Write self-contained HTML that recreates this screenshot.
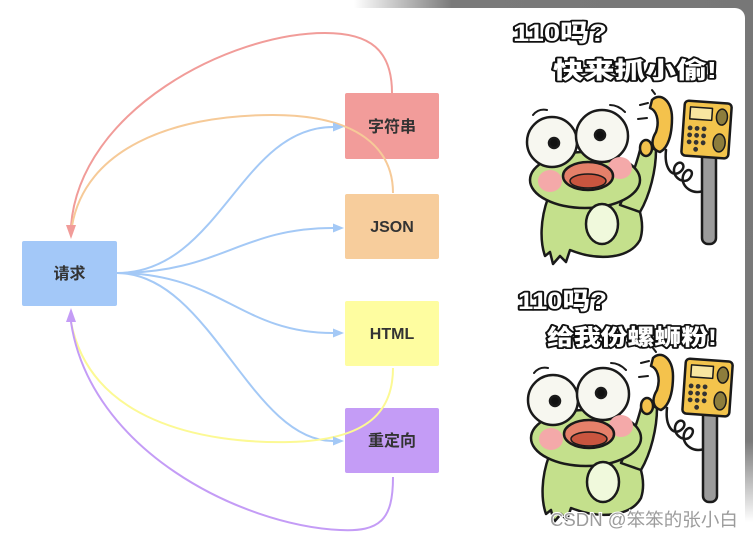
<!DOCTYPE html>
<html><head><meta charset="utf-8"><style>
html,body{margin:0;padding:0;background:#fff;width:753px;height:538px;overflow:hidden;}
svg{display:block;}
</style></head><body>
<svg width="753" height="538" viewBox="0 0 753 538" xmlns="http://www.w3.org/2000/svg">
<defs>
<linearGradient id="gt" x1="0" y1="0" x2="753" y2="0" gradientUnits="userSpaceOnUse">
<stop offset="0" stop-color="#fff"/><stop offset="0.47" stop-color="#fff"/><stop offset="0.6" stop-color="#7a7a7a"/><stop offset="1" stop-color="#777"/>
</linearGradient>
<linearGradient id="gr" x1="0" y1="0" x2="0" y2="538" gradientUnits="userSpaceOnUse">
<stop offset="0" stop-color="#777"/><stop offset="0.82" stop-color="#7a7a7a"/><stop offset="0.97" stop-color="#fff"/><stop offset="1" stop-color="#fff"/>
</linearGradient>
</defs>
<rect x="0" y="0" width="753" height="8" fill="url(#gt)"/>
<rect x="730" y="0" width="23" height="30" fill="#777"/>
<rect x="745" y="0" width="8" height="538" fill="url(#gr)"/>
<path d="M0,8 H735 A10,10 0 0 1 745,18 V538 H0 Z" fill="#fff"/>

<!-- nodes -->
<rect x="22" y="241" width="95" height="65" rx="2" fill="#a3c8f8"/>
<rect x="345" y="93" width="94" height="66" rx="2" fill="#f29c9a"/>
<rect x="345" y="194" width="94" height="65" rx="2" fill="#f7cd9c"/>
<rect x="345" y="301" width="94" height="65" rx="2" fill="#fefda0"/>
<rect x="345" y="408" width="94" height="65" rx="2" fill="#c49cf6"/>

<!-- edges -->
<g fill="none" stroke-width="2">
<path d="M392,93 C392,50 370,33 325,33 C230,33 80,110 71,226" stroke="#f19c99"/>
<path d="M393,193 C393,150 360,115 273,115 C170,115 85,150 72,226" stroke="#f6ca98"/>
<path d="M117,273 C220,273 240,127 333,127" stroke="#a4c9f6"/>
<path d="M117,273 C220,273 240,228 333,228" stroke="#a4c9f6"/>
<path d="M117,273 C220,273 240,333 333,333" stroke="#a4c9f6"/>
<path d="M117,273 C210,273 250,441 333,441" stroke="#a4c9f6"/>
<path d="M393,368 C393,410 370,440 290,442 C200,444 90,420 71,322" stroke="#fcf994"/>
<path d="M393,477 C393,520 380,532 340,530 C240,525 90,450 71,322" stroke="#c49cf6"/>
</g>
<polygon points="66,225 76,225 71,239" fill="#f19c99"/>
<polygon points="66,322 76,322 71,308" fill="#c49cf6"/>
<g fill="#a4c9f6">
<polygon points="333,122.5 333,131.5 344,127"/>
<polygon points="333,223.5 333,232.5 344,228"/>
<polygon points="333,328.5 333,337.5 344,333"/>
<polygon points="333,436.5 333,445.5 344,441"/>
</g>

<!-- labels -->
<g font-family="'Liberation Sans','Noto Sans CJK SC',sans-serif" font-weight="bold" font-size="16" fill="#333" text-anchor="middle">
<text x="69.5" y="279">请求</text>
<text x="392" y="132">字符串</text>
<text x="392" y="232">JSON</text>
<text x="392" y="339">HTML</text>
<text x="392" y="446">重定向</text>
</g>

<!-- frog sticker -->
<g id="frog" stroke="#1a1a1a" stroke-width="2.5" stroke-linejoin="round" stroke-linecap="round">
<path fill="none" d="M666,150 C664,168 672,178 680,172 C688,166 680,158 675,166 C670,176 684,186 690,178 C696,170 686,166 683,176 C680,188 696,196 704,190"/>
<rect x="702" y="152" width="14" height="92" rx="6" fill="#9b9b9b"/>
<g transform="rotate(4 706 130)">
<rect x="683" y="102" width="47" height="55" rx="4" fill="#f3c44c"/>
<rect x="689" y="108" width="22" height="12" fill="#f8e6a0" stroke-width="1.5"/>
<ellipse cx="721" cy="116" rx="5.5" ry="8" fill="#8d7d3c" stroke-width="1.5"/>
<ellipse cx="720" cy="142" rx="6" ry="9" fill="#8d7d3c" stroke-width="1.5"/>
<g fill="#333" stroke="none">
<circle cx="690" cy="129" r="2.4"/><circle cx="697" cy="129" r="2.4"/><circle cx="704" cy="129" r="2.4"/>
<circle cx="690" cy="136" r="2.4"/><circle cx="697" cy="136" r="2.4"/><circle cx="704" cy="136" r="2.4"/>
<circle cx="690" cy="143" r="2.4"/><circle cx="697" cy="143" r="2.4"/><circle cx="704" cy="143" r="2.4"/>
<circle cx="697" cy="150" r="2.4"/>
</g>
</g>
<path fill="#c4e08c" d="M548,198 C540,220 540,242 545,256 L550,252 L553,264 L560,256 L566,262 L570,250 C600,262 630,258 640,240 C645,225 640,210 635,198 Z"/>
<path fill="#c4e08c" d="M620,205 C630,182 636,166 640,150 L648,146 L656,150 C656,170 650,195 640,212 Z"/>
<ellipse cx="585" cy="180" rx="55" ry="28" fill="#c4e08c"/>
<ellipse cx="602" cy="224" rx="16" ry="20" fill="#f0f9dc"/>
<circle cx="552" cy="142" r="25" fill="#f7f7f0"/>
<circle cx="602" cy="136" r="26" fill="#f7f7f0"/>
<circle cx="554" cy="143" r="5" fill="#111"/>
<circle cx="600" cy="135" r="5" fill="#111"/>
<ellipse cx="550" cy="181" rx="12" ry="11" fill="#f4a9a9" stroke="none"/>
<ellipse cx="620" cy="168" rx="12" ry="11" fill="#f4a9a9" stroke="none"/>
<ellipse cx="588" cy="176" rx="25" ry="14" fill="#e5806a"/>
<ellipse cx="588" cy="181" rx="18" ry="7" fill="#c9553f" stroke-width="1.5"/>
<path fill="#f4c24c" d="M652,100 C660,92 672,100 672,118 C672,135 668,148 660,152 C652,150 650,142 656,132 C660,120 656,110 650,108 Z"/>
<ellipse cx="646" cy="148" rx="6" ry="8" fill="#f4c24c"/>
<path fill="none" stroke-width="2" d="M640,105 L648,103 M638,119 L647,118 M652,90 L655,94 M533,115 C537,110 542,109 547,110 M610,105 C616,105 621,108 625,112"/>
</g>
<use href="#frog" transform="translate(1,258)"/>

<!-- sticker texts -->
<g font-family="'Liberation Sans','Noto Sans CJK SC',sans-serif" font-weight="900" fill="#fff" stroke="#111" stroke-width="3.5" paint-order="stroke" stroke-linejoin="round">
<text x="513" y="41" font-size="24" textLength="94" lengthAdjust="spacingAndGlyphs">110吗?</text>
<text x="553" y="78" font-size="23" textLength="164" lengthAdjust="spacingAndGlyphs">快来抓小偷!</text>
<text x="518" y="309" font-size="24" textLength="89" lengthAdjust="spacingAndGlyphs">110吗?</text>
<text x="547" y="345" font-size="22" textLength="170" lengthAdjust="spacingAndGlyphs">给我份螺蛳粉!</text>
</g>

<text x="550" y="526" font-family="'Liberation Sans','Noto Sans CJK SC',sans-serif" font-size="18" fill="#9c9c9c" stroke="#fff" stroke-width="2" paint-order="stroke" textLength="188" lengthAdjust="spacingAndGlyphs">CSDN @笨笨的张小白</text>
</svg>
</body></html>
